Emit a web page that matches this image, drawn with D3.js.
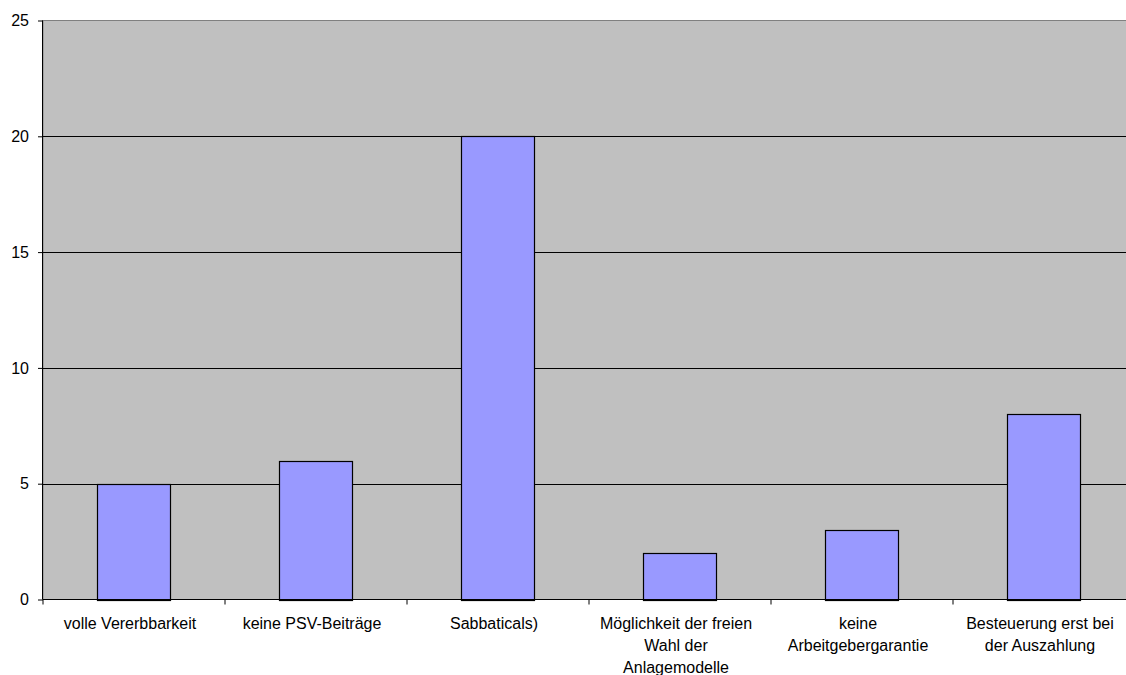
<!DOCTYPE html>
<html><head><meta charset="utf-8">
<script src="https://cdn.jsdelivr.net/npm/d3@7"></script>
<style>body{margin:0;background:#fff}svg{display:block}text{font-family:"Liberation Sans",Arial,sans-serif}</style>
</head><body>
<svg id="c" width="1126" height="675"></svg>
<script>
const categories = [
  ["volle Vererbbarkeit"],
  ["keine PSV-Beiträge"],
  ["Sabbaticals)"],
  ["Möglichkeit der freien", "Wahl der", "Anlagemodelle"],
  ["keine", "Arbeitgebergarantie"],
  ["Besteuerung erst bei", "der Auszahlung"]
];
const values = [5, 6, 20, 2, 3, 8];
const yTicks = [0, 5, 10, 15, 20, 25];

const svg = d3.select("#c");
const L = 43, T = 20.5, B = 599.5, R = 43 + 6 * 182;
const keys = categories.map((d, i) => i);
const x = d3.scaleBand().domain(keys).range([L, R]).paddingInner(0).paddingOuter(0);
const y = d3.scaleLinear().domain([0, 25]).range([B, T]);

svg.append("rect").attr("x", L).attr("y", T).attr("width", R - L).attr("height", B - T)
  .attr("fill", "#c0c0c0").attr("stroke", "#808080").attr("stroke-width", 1);

svg.append("g").selectAll("line").data(yTicks.filter(v => v > 0 && v < 25)).join("line")
  .attr("x1", L).attr("x2", R).attr("y1", d => Math.round(y(d)) + 0.5).attr("y2", d => Math.round(y(d)) + 0.5)
  .attr("stroke", "#000").attr("stroke-width", 1);

const bw = x.bandwidth() * 0.4;
svg.append("g").selectAll("rect").data(values).join("rect")
  .attr("x", (d, i) => Math.floor(x(i) + x.bandwidth() / 2 - bw / 2) + 0.5)
  .attr("y", d => Math.round(y(d)) + 0.5)
  .attr("width", Math.round(bw))
  .attr("height", d => Math.round(y(0)) - Math.round(y(d)))
  .attr("fill", "#9999ff").attr("stroke", "#000").attr("stroke-width", 1.2);

// y axis
const ya = svg.append("g").attr("transform", `translate(${L},0)`)
  .call(d3.axisLeft(y).tickValues(yTicks).tickSize(5).tickPadding(9).tickFormat(d3.format("d")));
ya.select(".domain").attr("stroke", "#000").attr("d", `M-0.5,${T}V${B}`);
ya.selectAll(".tick line").attr("stroke", "#000");
ya.selectAll("text").attr("font-size", 16).attr("fill", "#000").style("font-family", '"Liberation Sans",Arial,sans-serif');

// x axis
const xa = svg.append("g").attr("transform", `translate(0,${B})`);
xa.append("line").attr("x1", L).attr("x2", R).attr("stroke", "#000");
xa.selectAll(".tk").data(d3.range(0, 7)).join("line")
  .attr("x1", i => L + i * x.step()).attr("x2", i => L + i * x.step())
  .attr("y1", 0).attr("y2", 5).attr("stroke", "#000");

const lab = svg.append("g").selectAll("text").data(categories).join("text")
  .attr("text-anchor", "middle").attr("font-size", 16).attr("fill", "#000")
  .attr("transform", (d, i) => `translate(${x(i) + x.bandwidth() / 2 - 4},629)`);
lab.selectAll("tspan").data(d => d).join("tspan")
  .attr("x", 0).attr("y", (d, j) => j * 22).text(d => d);
</script>
</body></html>
